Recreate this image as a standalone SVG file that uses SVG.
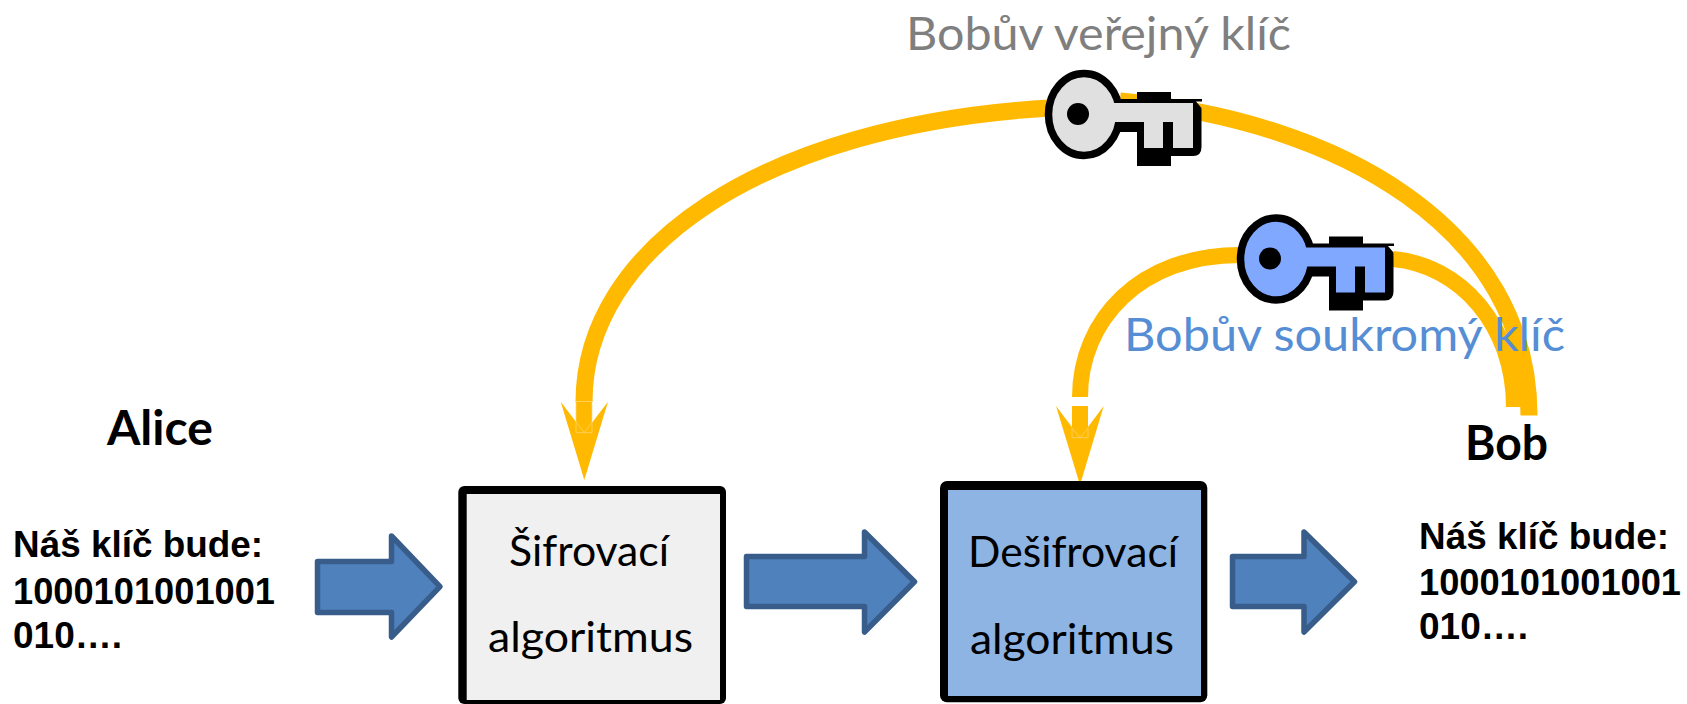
<svg xmlns="http://www.w3.org/2000/svg" xmlns:xlink="http://www.w3.org/1999/xlink" width="1687" height="704" viewBox="0 0 1687 704">
<style>
.wire{fill:none;stroke:#ffb900;stroke-width:16}
.thick{stroke-width:17}
.head{fill:#ffb900;stroke:none}
.seam{fill:none;stroke:#ffd978;stroke-width:.7}
.flow{fill:#4f81bd;stroke:#385d8a;stroke-width:5.500;stroke-linejoin:round}
.cal{font-family:Lato,"Open Sans","Liberation Sans",sans-serif}
.lab{font-size:42px;fill:#000}
.bold{font-family:"Liberation Sans",Arial,sans-serif;font-weight:700;font-size:37px;fill:#000}
.name{font-weight:700;font-size:47px;fill:#000}
</style>
<defs>
<g id="keyshape">
<path fill="#000" d="M1110 99H1137V92H1171V99H1202V101.500H1196L1201.500 108V147Q1201.500 156 1193 156H1171V166H1137V132H1110Z"/>
<ellipse cx="1084" cy="114.500" rx="35.500" ry="41" stroke="#000" stroke-width="7.500"/>
<path d="M1100 103H1193V148H1173V122H1163V148H1144V122H1100Z"/>
<ellipse cx="1078" cy="114" rx="11" ry="11" fill="#000"/>
</g>
</defs>
<rect width="1687" height="704" fill="#fff"/>
<g id="connectors">
<path class="wire thick" d="M584 402C584 250 760 125 1050 108"/>
<path class="wire thick" d="M1120 101C1340 120 1529 230 1529 415.500"/>
<path class="wire" d="M1393 259C1460 265 1514 325 1514 407"/>
<path class="wire" d="M1080 397C1080 320 1140 255 1240 255"/>
<rect class="head" x="1072" y="406" width="16" height="32"/>
<rect class="head" x="576" y="401" width="16" height="32"/>
<polygon class="head" points="560.700,401.700 584.300,480 608,401.700 584.300,432.700"/>
<polygon class="head" points="1056,406 1080,485 1103.700,406 1080,437.700"/>
<path class="seam" d="M576 401.500H592M576 401.500V432.700H592V401.500M576 422L584.300 432.700L592 422"/>
<path class="seam" d="M1072 428L1080 437.700L1088 428M1072 428V437.700H1088V428"/>
</g>
<g id="arrow-1"><path class="flow" d="M317.500 561.500H391.500V536L440 586.700L391.500 637V612.500H317.500Z"/></g>
<g id="arrow-2"><path class="flow" d="M746.500 556.500H864.500V532L914.500 581.700L864.500 632V606.500H746.500Z"/></g>
<g id="arrow-3"><path class="flow" d="M1232.500 556.500H1304V532L1354.500 581.700L1304 632V606.500H1232.500Z"/></g>
<g id="sifrovaci">
<rect x="458.300" y="486" width="267.700" height="218" rx="6" fill="#000"/>
<rect x="466.700" y="494" width="253.300" height="206" fill="#f0f0f0"/>
<text class="cal lab" x="509" y="566" textLength="160" lengthAdjust="spacingAndGlyphs">Šifrovací</text>
<text class="cal lab" x="488" y="652" textLength="205" lengthAdjust="spacingAndGlyphs">algoritmus</text>
</g>
<g id="desifrovaci">
<rect x="940" y="481" width="267.300" height="221.300" rx="7" fill="#000"/>
<rect x="948" y="490" width="253" height="206" fill="#8eb4e3"/>
<text class="cal lab" x="968" y="566.700" textLength="210" lengthAdjust="spacingAndGlyphs">Dešifrovací</text>
<text class="cal lab" x="970" y="654" textLength="204" lengthAdjust="spacingAndGlyphs">algoritmus</text>
</g>
<g id="key-public"><use xlink:href="#keyshape" href="#keyshape" fill="#e0e0e0"/></g>
<g id="key-private"><use xlink:href="#keyshape" href="#keyshape" fill="#80a8ff" transform="translate(192 144.500)"/></g>
<g id="label-public"><text class="cal" x="906" y="50" font-size="47" fill="#7f7f7f" textLength="385" lengthAdjust="spacingAndGlyphs">Bobův veřejný klíč</text></g>
<g id="label-private"><text class="cal" x="1124" y="351" font-size="47" fill="#558ed5" textLength="441" lengthAdjust="spacingAndGlyphs">Bobův soukromý klíč</text></g>
<g id="alice">
<text class="cal name" x="107" y="445" textLength="106" lengthAdjust="spacingAndGlyphs">Alice</text>
<text class="bold" x="13" y="557" textLength="250" lengthAdjust="spacingAndGlyphs">Náš klíč bude:</text>
<text class="bold" x="13" y="604" textLength="262" lengthAdjust="spacingAndGlyphs">1000101001001</text>
<text class="bold" x="13" y="648" textLength="109" lengthAdjust="spacingAndGlyphs">010….</text>
</g>
<g id="bob">
<text class="cal name" x="1465" y="460" textLength="83" lengthAdjust="spacingAndGlyphs">Bob</text>
<text class="bold" x="1419" y="549" textLength="250" lengthAdjust="spacingAndGlyphs">Náš klíč bude:</text>
<text class="bold" x="1419" y="595" textLength="262" lengthAdjust="spacingAndGlyphs">1000101001001</text>
<text class="bold" x="1419" y="639" textLength="109" lengthAdjust="spacingAndGlyphs">010….</text>
</g>
</svg>
